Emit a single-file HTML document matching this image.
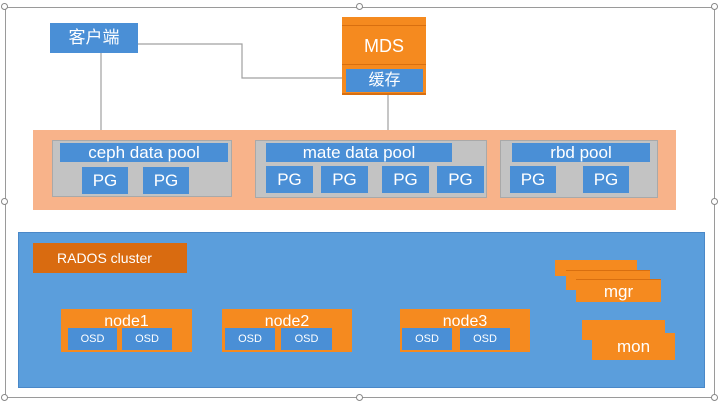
<!DOCTYPE html>
<html><head><style>
body{margin:0;width:722px;height:408px;background:#fff;position:relative;overflow:hidden;font-family:"Liberation Sans","Noto Sans CJK SC",sans-serif}
div{position:absolute;box-sizing:border-box}
.b{background:#4a8fd6;color:#fff;text-align:center}
.o{background:#f58a1f;color:#fff;text-align:center}
.g{background:#c3c3c3;border:1px solid #a9a9a9}
.pg{background:#4a8fd6;color:#fff;font-size:17px;text-align:center;line-height:27px;height:27px}
.osd{background:#4a8fd6;color:#fff;font-size:11px;text-align:center;line-height:22px;height:22px}
.h{width:7px;height:7px;border:1px solid #888;border-radius:50%;background:#fff}
</style></head><body>
<div style="left:5px;top:7px;width:710px;height:391px;border:1px solid #9a9a9a"></div>
<div class="h" style="left:1px;top:3px"></div><div class="h" style="left:356px;top:3px"></div><div class="h" style="left:711px;top:3px"></div>
<div class="h" style="left:1px;top:198px"></div><div class="h" style="left:711px;top:198px"></div>
<div class="h" style="left:1px;top:394px"></div><div class="h" style="left:356px;top:394px"></div><div class="h" style="left:711px;top:394px"></div>
<svg style="position:absolute;left:0;top:0" width="722" height="408"><g stroke="#a0a0a0" stroke-width="1.2" fill="none">
<polyline points="138,44 242,44 242,78 342,78"/>
<polyline points="101,52 101,133 144,133 144,190"/>
<polyline points="388,95 388,162 361,162 361,192"/>
</g></svg>
<div class="b" style="left:50px;top:23px;width:88px;height:30px;font-size:17px;line-height:30px">客户端</div>
<div class="o" style="left:342px;top:17px;width:84px;height:78px;border-bottom:2px solid #d86f10"></div>
<div class="o" style="left:342px;top:25px;width:84px;height:40px;font-size:18px;line-height:40px;border-top:1px solid #d86f10;border-bottom:1px solid #d86f10">MDS</div>
<div class="b" style="left:346px;top:69px;width:77px;height:23px;font-size:16px;line-height:23px">缓存</div>
<div style="left:33px;top:130px;width:643px;height:80px;background:#f8b38a"></div>
<div class="g" style="left:52px;top:140px;width:180px;height:57px"></div>
<div class="b" style="left:60px;top:143px;width:168px;height:19px;font-size:17px;line-height:19px">ceph data pool</div>
<div class="pg" style="left:82px;top:167px;width:46px">PG</div><div class="pg" style="left:143px;top:167px;width:46px">PG</div>
<div class="g" style="left:255px;top:140px;width:232px;height:58px"></div>
<div class="b" style="left:266px;top:143px;width:186px;height:19px;font-size:17px;line-height:19px">mate data pool</div>
<div class="pg" style="left:266px;top:166px;width:47px">PG</div><div class="pg" style="left:321px;top:166px;width:47px">PG</div>
<div class="pg" style="left:382px;top:166px;width:47px">PG</div><div class="pg" style="left:437px;top:166px;width:47px">PG</div>
<div class="g" style="left:500px;top:140px;width:158px;height:58px"></div>
<div class="b" style="left:512px;top:143px;width:138px;height:19px;font-size:17px;line-height:19px">rbd pool</div>
<div class="pg" style="left:510px;top:166px;width:46px">PG</div><div class="pg" style="left:583px;top:166px;width:46px">PG</div>
<div style="left:18px;top:232px;width:687px;height:156px;background:#5b9edc;border:1px solid #4a88c8"></div>
<div style="left:33px;top:243px;width:154px;height:30px;background:#d96b10;color:#fff;font-size:14px;line-height:30px;padding-left:24px">RADOS cluster</div>
<div class="o" style="left:555px;top:260px;width:82px;height:16px"></div>
<div class="o" style="left:566px;top:270px;width:84px;height:20px;border-top:1px solid #d86f10"></div>
<div class="o" style="left:576px;top:279px;width:85px;height:23px;font-size:17px;line-height:23px;border-top:1px solid #d86f10">mgr</div>
<div class="o" style="left:582px;top:320px;width:83px;height:20px"></div>
<div class="o" style="left:592px;top:333px;width:83px;height:27px;font-size:17px;line-height:27px">mon</div>
<div class="o" style="left:61px;top:309px;width:131px;height:43px;font-size:16px;line-height:26px">node1</div>
<div class="osd" style="left:68px;top:328px;width:49px">OSD</div><div class="osd" style="left:122px;top:328px;width:50px">OSD</div>
<div class="o" style="left:222px;top:309px;width:130px;height:43px;font-size:16px;line-height:26px">node2</div>
<div class="osd" style="left:225px;top:328px;width:50px">OSD</div><div class="osd" style="left:281px;top:328px;width:51px">OSD</div>
<div class="o" style="left:400px;top:309px;width:130px;height:43px;font-size:16px;line-height:26px">node3</div>
<div class="osd" style="left:402px;top:328px;width:50px">OSD</div><div class="osd" style="left:460px;top:328px;width:50px">OSD</div>
</body></html>
